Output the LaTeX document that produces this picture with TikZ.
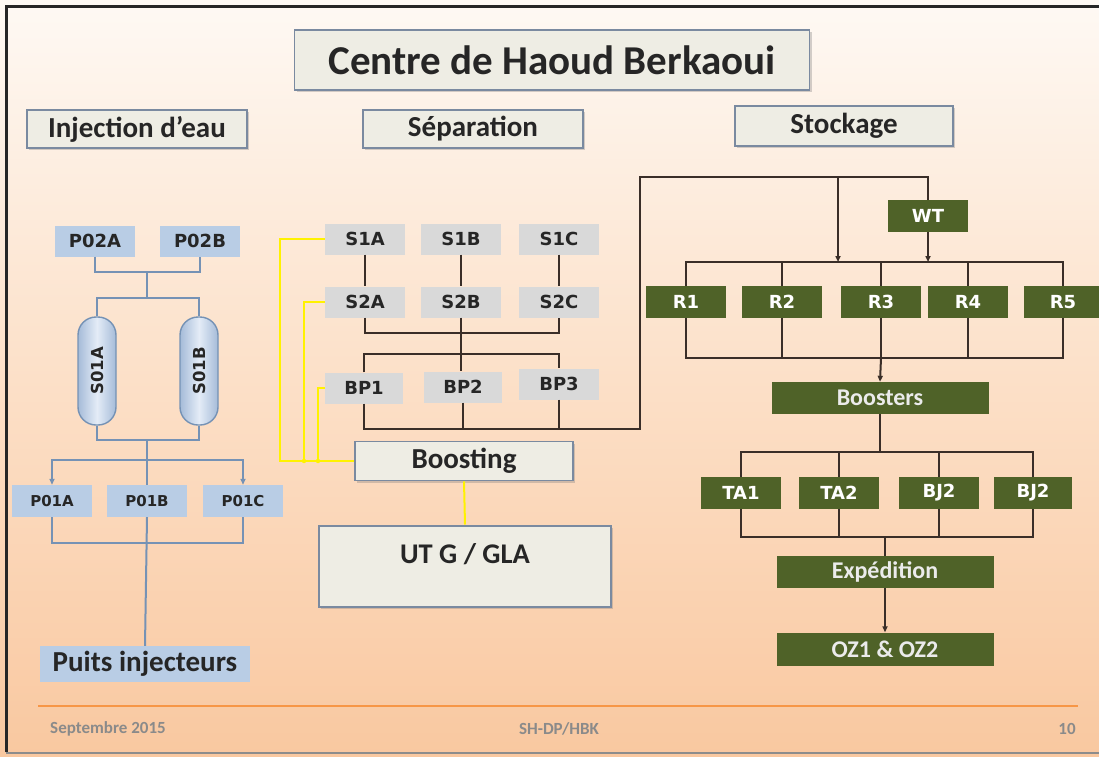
\documentclass[tikz,border=0pt]{standalone}
\usepackage{fontspec}
\setmainfont{Carlito}
\newfontfamily\labelfont{DejaVu Sans}
\usetikzlibrary{arrows.meta,shadows,calc}
\definecolor{bgtop}{HTML}{FEF9F4}
\definecolor{bgmid}{HTML}{FCE0C8}
\definecolor{bgbot}{HTML}{F9C8A0}
\definecolor{hdrfill}{HTML}{EEEDE4}
\definecolor{hdrline}{HTML}{7A8AA0}
\definecolor{bluebox}{HTML}{B9CDE5}
\definecolor{blueline}{HTML}{7592B5}
\definecolor{vesselside}{HTML}{A5BBD8}
\definecolor{vesselmid}{HTML}{E4ECF7}
\definecolor{graybox}{HTML}{D9D9D9}
\definecolor{greenbox}{HTML}{4F6228}
\definecolor{darkline}{HTML}{3A2E28}
\definecolor{footline}{HTML}{F79646}
\definecolor{foottext}{HTML}{8A8A8A}
\tikzset{
  header/.style={draw=hdrline, line width=1.6pt, fill=hdrfill, inner sep=0pt,
    drop shadow={opacity=0.35, shadow xshift=2pt, shadow yshift=-2pt},
    font=\fontsize{29}{32}\selectfont\bfseries, text=black!85},
  tag/.style={minimum width=80pt, minimum height=31pt, inner sep=0pt,
    font=\labelfont\bfseries\fontsize{18}{20}\selectfont, text=black!85},
  bbox/.style={tag, fill=bluebox},
  gbox/.style={tag, fill=graybox},
  rbox/.style={tag, fill=greenbox, minimum height=32pt, text=white},
  wbox/.style={fill=greenbox, minimum width=217pt, minimum height=32pt, inner sep=0pt,
    font=\fontsize{24}{26}\selectfont\bfseries, text=white!92!black},
  vessel/.style={draw=blueline, line width=1.4pt, rounded corners=18pt,
    left color=vesselside, right color=vesselside, middle color=vesselmid,
    minimum width=38pt, minimum height=108pt, inner sep=0pt,
    font=\labelfont\bfseries\fontsize{16.5}{18}\selectfont, text=black!85},
  bline/.style={draw=blueline, line width=2pt},
  dline/.style={draw=darkline, line width=2pt},
  yline/.style={draw=yellow, line width=2pt},
  tip/.style={-{Triangle[length=6pt,width=5pt]}},
  foot/.style={text=foottext, font=\fontsize{17}{19}\selectfont\bfseries},
}
\begin{document}
\begin{tikzpicture}[x=1pt,y=-1pt]
\useasboundingbox (0,0) rectangle (1099,756);
% background and frame
\fill[top color=bgtop, bottom color=bgbot, middle color=bgmid] (0,0) rectangle (1099,756);
\draw[black!85, line width=3pt] (6,752) -- (6,6) -- (1099,6);
\draw[black!45, line width=2pt] (6,753) -- (1099,753);

% titles
\node[header, minimum width=515pt, minimum height=60pt, font=\fontsize{41}{44}\selectfont\bfseries]
  (title) at (552,60) {Centre de Haoud Berkaoui};
\node[header, minimum width=220pt, minimum height=38pt] (hinj) at (137,129) {Injection d’eau};
\node[header, minimum width=220pt, minimum height=38pt] (hsep) at (473,129) {Séparation};
\node[header, minimum width=218pt, minimum height=40pt] (hsto) at (844,126) {Stockage};

% ---------------- water injection ----------------
\node[bbox] (p02a) at (95,241) {P02A};
\node[bbox] (p02b) at (200,241) {P02B};
\node[vessel] (s01a) at (97,371) {\rotatebox{90}{S01A}};
\node[vessel] (s01b) at (199,371) {\rotatebox{90}{S01B}};
\node[bbox, minimum height=32pt, font=\labelfont\bfseries\fontsize{15}{17}\selectfont] (p01a) at (52,501) {P01A};
\node[bbox, minimum height=32pt, font=\labelfont\bfseries\fontsize{15}{17}\selectfont] (p01b) at (147,501) {P01B};
\node[bbox, minimum height=32pt, font=\labelfont\bfseries\fontsize{15}{17}\selectfont] (p01c) at (243,501) {P01C};
\node[fill=bluebox, minimum width=210pt, minimum height=36pt, inner sep=0pt,
  font=\fontsize{29}{32}\selectfont\bfseries, text=black!85] (puits) at (145,664) {Puits injecteurs};

\coordinate (j1) at (147,272);
\coordinate (j2) at (147,298);
\coordinate (j3) at (147,440);
\coordinate (j4) at (147,460);
\coordinate (j5) at (147,543);
\draw[bline] (p02a.south) |- (j1) -| (p02b.south);
\draw[bline] (j1) -- (j2);
\draw[bline] (s01a.north) |- (j2) -| (s01b.north);
\draw[bline] (s01a.south) |- (j3) -| (s01b.south);
\draw[bline] (j3) -- (p01b.north);
\draw[bline, tip] (j4) -| (p01a.north);
\draw[bline, tip] (j4) -| (p01c.north);
\draw[bline] (p01a.south) |- (j5) -| (p01c.south);
\draw[bline] (p01b.south) -- (puits.north);

% ---------------- separation ----------------
\node[gbox] (s1a) at (365,239) {S1A};
\node[gbox] (s1b) at (461,239) {S1B};
\node[gbox] (s1c) at (559,239) {S1C};
\node[gbox] (s2a) at (365,302) {S2A};
\node[gbox] (s2b) at (461,302) {S2B};
\node[gbox] (s2c) at (559,302) {S2C};
\node[gbox, minimum width=78pt] (bp1) at (364,388) {BP1};
\node[gbox, minimum width=78pt] (bp2) at (463,387) {BP2};
\node[gbox] (bp3) at (559,384) {BP3};
\node[header, minimum width=218pt, minimum height=39pt, drop shadow={opacity=0}] (boost) at (464,461) {Boosting};
\node[header, minimum width=292pt, minimum height=81pt, drop shadow={opacity=0}, line width=2pt,
  font=\fontsize{28.5}{30}\selectfont\bfseries, text depth=38pt, text height=33pt] (utg) at (465,566) {UT G / GLA};

\draw[dline] (s1a) -- (s2a);
\draw[dline] (s1b) -- (s2b);
\draw[dline] (s1c) -- (s2c);
\coordinate (m1) at (461,333);
\coordinate (m2) at (461,354);
\coordinate (m3) at (640,429);
\coordinate (m4) at (640,177);
\coordinate (m5) at (838,177);
\draw[dline] (s2a.south) |- (m1) -| (s2c.south);
\draw[dline] (s2b.south) -- (s2b.south |- bp2.north);
\draw[dline] (bp1.north) |- (m2) -| (bp3.north);
\draw[dline] (bp2.south) -- (bp2.south |- m3);
\draw[dline] (bp3.south) -- (bp3.south |- m3);

% gas lines to boosting and UTG
\coordinate (y1) at (280,461);
\coordinate (y2) at (304,461);
\coordinate (y3) at (318,461);
\draw[yline] (s1a.west) -| (y1) -- (boost.west);
\draw[yline] (s2a.west) -| (y2);
\draw[yline] (bp1.west) -| (y3);
\fill[yellow] (y2) circle (2.2pt) (y3) circle (2.2pt);
\draw[yline] (boost.south) -- (utg.north);

% ---------------- storage ----------------
\node[rbox] (wt) at (928,216) {WT};
\node[rbox] (r1) at (686,302) {R1};
\node[rbox] (r2) at (782,302) {R2};
\node[rbox] (r3) at (881,302) {R3};
\node[rbox] (r4) at (968,302) {R4};
\node[rbox, minimum width=78pt] (r5) at (1063,302) {R5};
\node[wbox] (boosters) at (880,398) {Boosters};
\node[rbox] (ta1) at (741,493) {TA1};
\node[rbox] (ta2) at (839,493) {TA2};
\node[rbox] (bj2a) at (939,493) {BJ2};
\node[rbox, minimum width=78pt] (bj2b) at (1033,493) {BJ2};
\node[wbox] (exp) at (885,572) {Expédition};
\node[wbox, minimum height=33pt] (oz) at (885,649) {OZ1 \& OZ2};

% oil line from the boosting pumps up to storage
\draw[dline] (bp1.south) |- (m3) -- (m4) -| (wt.north);

\coordinate (rt) at (881,262);
\coordinate (rin) at (838,262);
\coordinate (rwt) at (928,262);
\coordinate (rb) at (881,358);
\draw[dline, tip] (m5) -- (rin);
\draw[dline, tip] (wt.south) -- (rwt);
\draw[dline] (r1.north) |- (rt) -| (r5.north);
\draw[dline] (r2.north) -- (r2.north |- rt);
\draw[dline] (r3.north) -- (rt);
\draw[dline] (r4.north) -- (r4.north |- rt);
\draw[dline] (r1.south) |- (rb) -| (r5.south);
\draw[dline] (r2.south) -- (r2.south |- rb);
\draw[dline] (r3.south) -- (rb);
\draw[dline] (r4.south) -- (r4.south |- rb);
\draw[dline, tip] (rb) -- (boosters.north);

\coordinate (tt) at (880,452);
\coordinate (tb) at (885,537);
\draw[dline] (boosters.south) -- (tt);
\draw[dline] (ta1.north) |- (tt) -| (bj2b.north);
\draw[dline] (ta2.north) -- (ta2.north |- tt);
\draw[dline] (bj2a.north) -- (bj2a.north |- tt);
\draw[dline] (ta1.south) |- (tb) -| (bj2b.south);
\draw[dline] (ta2.south) -- (ta2.south |- tb);
\draw[dline] (bj2a.south) -- (bj2a.south |- tb);
\draw[dline] (tb) -- (exp.north);
\draw[dline, tip] (exp.south) -- (oz.north);

% ---------------- footer ----------------
\coordinate (fl) at (38,706);
\coordinate (fr) at (1078,706);
\draw[footline, line width=2.5pt] (fl) -- (fr);
\node[foot] (fdate) at (108,729) {Septembre 2015};
\node[foot] (fref) at (559,729) {SH-DP/HBK};
\node[foot] (fpage) at (1067,729) {10};
\end{tikzpicture}
\end{document}
